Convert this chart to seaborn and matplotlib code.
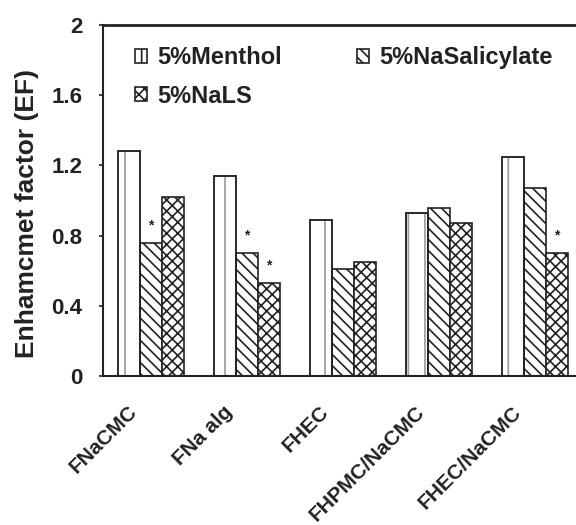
import matplotlib
matplotlib.use("Agg")
import matplotlib.pyplot as plt
import matplotlib.transforms as mtransforms
import seaborn as sns
import pandas as pd
from matplotlib.patches import Rectangle, Patch

formulations = ["FNaCMC", "FNa alg", "FHEC", "FHPMC/NaCMC", "FHEC/NaCMC"]
enhancers = ["5%Menthol", "5%NaSalicylate", "5%NaLS"]
menthol = [1.28, 1.14, 0.89, 0.93, 1.25]
nasalicylate = [0.76, 0.70, 0.61, 0.96, 1.07]
nals = [1.02, 0.53, 0.65, 0.87, 0.70]
significant = {"5%NaSalicylate": [0, 1], "5%NaLS": [1, 4]}
yticks = [0, 0.4, 0.8, 1.2, 1.6, 2]
yticklabels = ["0", "0.4", "0.8", "1.2", "1.6", "2"]

rows = []
for name, vals in zip(enhancers, [menthol, nasalicylate, nals]):
    for f, v in zip(formulations, vals):
        rows.append({"formulation": f, "EF": v, "enhancer": name})
df = pd.DataFrame(rows)

sns.set_style("white")
plt.rcParams["font.family"] = ["Liberation Sans", "DejaVu Sans"]
plt.rcParams["font.weight"] = "bold"
plt.rcParams["hatch.linewidth"] = 1.2

ink = "#222222"
fig = plt.figure(figsize=(5.76, 5.25), dpi=100)
ax = fig.add_axes([0.179, 0.284, 0.821, 0.668])

sns.barplot(data=df, x="formulation", y="EF", hue="enhancer", order=formulations,
            hue_order=enhancers, palette=["white"] * 3, width=0.69, gap=0,
            edgecolor=ink, linewidth=1.2, errorbar=None, legend=False, ax=ax)

hatches = {"5%Menthol": "|", "5%NaSalicylate": "\\\\\\", "5%NaLS": "xxx"}
bars = list(ax.patches)
n = len(formulations)
for i, name in enumerate(enhancers):
    for j in range(n):
        p = bars[i * n + j]
        p.set_hatch(hatches[name])
        if name == "5%Menthol":
            p.set_edgecolor("#9a9a9a")
            ax.add_patch(Rectangle(p.get_xy(), p.get_width(), p.get_height(),
                                   fill=False, edgecolor=ink, linewidth=1.3, zorder=3))
        if j in significant.get(name, []):
            ax.text(p.get_x() + p.get_width() / 2, p.get_height() + 0.06, "*",
                    ha="center", va="bottom", fontsize=10, color=ink)

ax.set_ylim(0, 2)
ax.set_xlim(-0.495, 4.43)
ax.set_yticks(yticks)
ax.set_yticklabels(yticklabels, fontsize=16, color=ink)
ax.set_xticks(range(n))
ax.set_xticklabels(formulations, rotation=45, ha="right", fontsize=15, color=ink)
ax.tick_params(axis="y", length=3, width=1.2, color=ink, pad=12, left=True)
ax.tick_params(axis="x", length=0, pad=19)
shift = mtransforms.ScaledTranslation(-0.10, 0, fig.dpi_scale_trans)
for lab in ax.get_xticklabels():
    lab.set_transform(lab.get_transform() + shift)
ax.set_xlabel("")
ax.set_ylabel("Enhamcmet factor (EF)", fontsize=19, color=ink, fontweight="bold")
ax.yaxis.set_label_coords(-0.135, 0.464)

for s in ["left", "bottom", "top"]:
    ax.spines[s].set_visible(True)
    ax.spines[s].set_color(ink)
    ax.spines[s].set_linewidth(1.5)
ax.spines["top"].set_linewidth(2)
ax.spines["right"].set_visible(False)

handles = [Patch(facecolor="white", edgecolor=ink, hatch=hatches[e], linewidth=1.2) for e in enhancers]
order = [0, 2, 1]
leg = ax.legend([handles[k] for k in order], [enhancers[k] for k in order], ncol=2,
                loc="upper left", bbox_to_anchor=(0.068, 0.94), frameon=False,
                fontsize=17, handlelength=0.5, handleheight=0.5, handletextpad=0.42,
                columnspacing=3.2, labelspacing=0.65, borderpad=0, borderaxespad=0)
for t in leg.get_texts():
    t.set_color(ink)
    t.set_fontweight("bold")

fig.savefig("out.png", dpi=100)
